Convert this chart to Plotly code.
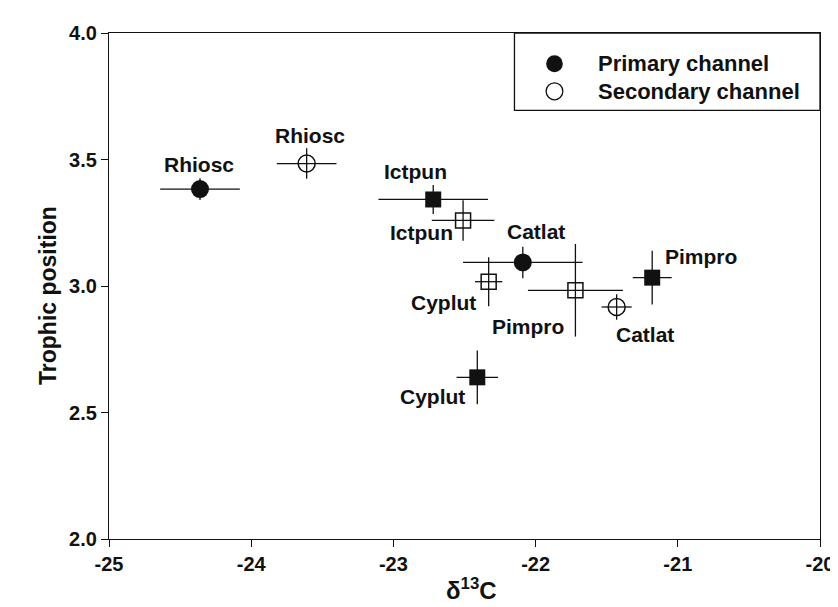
import plotly.graph_objects as go

# ---------------- data ----------------
prim_circ_names = ["Rhiosc", "Catlat"]
prim_circ_x = [-24.36, -22.09]
prim_circ_y = [3.383, 3.093]
prim_circ_xerr = [0.28, 0.42]
prim_circ_yerr = [0.043, 0.062]

prim_sq_names = ["Ictpun", "Pimpro", "Cyplut"]
prim_sq_x = [-22.72, -21.18, -22.41]
prim_sq_y = [3.342, 3.033, 2.639]
prim_sq_xerr = [0.385, 0.137, 0.146]
prim_sq_yerr = [0.057, 0.106, 0.106]

sec_circ_names = ["Rhiosc", "Catlat"]
sec_circ_x = [-23.61, -21.43]
sec_circ_y = [3.484, 2.917]
sec_circ_xerr = [0.21, 0.106]
sec_circ_yerr = [0.06, 0.05]

sec_sq_names = ["Ictpun", "Cyplut", "Pimpro"]
sec_sq_x = [-22.51, -22.33, -21.72]
sec_sq_y = [3.259, 3.017, 2.983]
sec_sq_xerr = [0.22, 0.096, 0.334]
sec_sq_yerr = [0.08, 0.097, 0.183]

x_ticks = [-25, -24, -23, -22, -21, -20]
y_ticks = [2.0, 2.5, 3.0, 3.5, 4.0]
legend_labels = ["Primary channel", "Secondary channel"]

# label pixel offsets (dx right, dy up), styling only
prim_circ_off = [(-1, 25), (13, 31)]
prim_sq_off = [(-18, 28), (49, 21), (-45, -19)]
sec_circ_off = [(3, 28), (28, -27)]
sec_sq_off = [(-42, -12), (-45, -21), (-47, -36)]

# ---------------- layout constants ----------------
W, H = 838, 607
L, R, T, B = 101, 14, 25, 76
PW, PH = W - L - R, H - T - B
FONT = "Liberation Sans"
INK = "#111111"


def px(xp):
    return (xp - L) / PW


def py(yp):
    return (H - B - yp) / PH


fig = go.Figure()


def add_series(xs, ys, xe, ye, symbol, size, filled):
    fig.add_trace(go.Scatter(
        x=xs, y=ys, mode="markers", showlegend=False,
        error_x=dict(type="data", array=xe, visible=True, color=INK, thickness=1.3, width=0),
        error_y=dict(type="data", array=ye, visible=True, color=INK, thickness=1.3, width=0),
        marker=dict(symbol=symbol if filled else symbol + "-open", size=size,
                    color=INK, line=dict(color=INK, width=0 if filled else 1.5)),
    ))


add_series(prim_circ_x, prim_circ_y, prim_circ_xerr, prim_circ_yerr, "circle", 18, True)
add_series(prim_sq_x, prim_sq_y, prim_sq_xerr, prim_sq_yerr, "square", 16, True)
add_series(sec_circ_x, sec_circ_y, sec_circ_xerr, sec_circ_yerr, "circle", 17, False)
add_series(sec_sq_x, sec_sq_y, sec_sq_xerr, sec_sq_yerr, "square", 15, False)

annotations = []
for names, xs, ys, offs in [
    (prim_circ_names, prim_circ_x, prim_circ_y, prim_circ_off),
    (prim_sq_names, prim_sq_x, prim_sq_y, prim_sq_off),
    (sec_circ_names, sec_circ_x, sec_circ_y, sec_circ_off),
    (sec_sq_names, sec_sq_x, sec_sq_y, sec_sq_off),
]:
    for n, x, y, (dx, dy) in zip(names, xs, ys, offs):
        annotations.append(dict(x=x, y=y, xref="x", yref="y", text="<b>" + n + "</b>", showarrow=False,
                                xshift=dx, yshift=dy,
                                font=dict(size=21, family=FONT, color=INK)))

# axis titles
annotations.append(dict(x=px(470), y=py(598), xref="paper", yref="paper",
                        text="<b>δ<sup>13</sup>C</b>", showarrow=False,
                        font=dict(size=24, family=FONT, color=INK)))
annotations.append(dict(x=px(23), y=0.30, xref="paper", yref="paper",
                        text="<b>Trophic position</b>", showarrow=False, textangle=-90,
                        font=dict(size=23, family=FONT, color=INK)))

# manual legend
shapes = [dict(type="rect", xref="paper", yref="paper",
               x0=px(513.3), x1=1.0, y0=py(102.3), y1=1.0,
               line=dict(color=INK, width=1.3), fillcolor="white", layer="above")]
rows = [55.7, 83.3]
for i, (lab, ry) in enumerate(zip(legend_labels, rows)):
    shapes.append(dict(type="circle", xref="paper", yref="paper",
                       x0=px(554 - 8.5), x1=px(554 + 8.5), y0=py(ry + 8.5), y1=py(ry - 8.5),
                       line=dict(color=INK, width=1.3 if i else 0),
                       fillcolor=INK if i == 0 else "white", layer="above"))
    annotations.append(dict(x=px(596.7), y=py(ry), xref="paper", yref="paper",
                            xanchor="left", yanchor="middle", text="<b>" + lab + "</b>", showarrow=False,
                            font=dict(size=22, family=FONT, color=INK)))

axis_common = dict(showgrid=False, zeroline=False, showline=True, linecolor=INK, linewidth=1.3,
                   mirror=True, ticks="outside", ticklen=7, tickwidth=1.3, tickcolor=INK,
                   ticklabeloverflow="allow",
                   tickfont=dict(size=20, family=FONT, color=INK))

fig.update_layout(
    width=W, height=H, autosize=False,
    margin=dict(l=L, r=R, t=T, b=B),
    paper_bgcolor="white", plot_bgcolor="white",
    font=dict(family=FONT, color=INK),
    xaxis=dict(range=[-25, -20], tickvals=x_ticks,
               ticktext=["<b>" + str(v) + "</b>" for v in x_ticks], **axis_common),
    yaxis=dict(range=[2, 4], tickvals=y_ticks,
               ticktext=["<b>" + f"{v:.1f}" + "</b>" for v in y_ticks], **axis_common),
    annotations=annotations, shapes=shapes, showlegend=False,
)

fig.write_html("out.html")
